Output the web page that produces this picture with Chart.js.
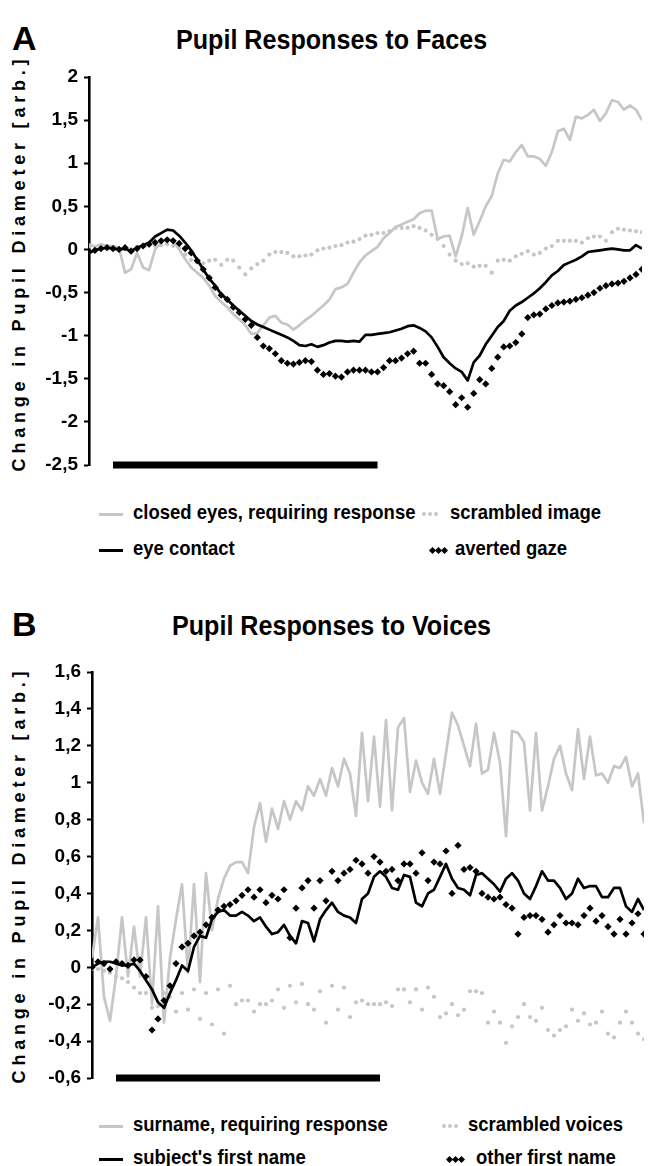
<!DOCTYPE html>
<html>
<head>
<meta charset="utf-8">
<script src="https://cdn.jsdelivr.net/npm/chart.js@4.4.1/dist/chart.umd.min.js"></script>
<style>
  body { margin: 0; background: #fff; font-family: "Liberation Sans", Arial, sans-serif; color: #000; }
  #page { position: relative; width: 653px; height: 1166px; overflow: hidden; }
  .box { position: absolute; left: 0; width: 653px; }
  .letter { position: absolute; left: 12px; font-size: 34px; line-height: 34px; font-weight: bold; }
  .title { position: absolute; font-size: 27px; line-height: 27px; font-weight: bold; white-space: nowrap;
           transform-origin: 0 0; transform: scaleX(0.93); }
  .ytitle { position: absolute; width: 440px; text-align: center; font-size: 18px; line-height: 18px;
            font-weight: bold; letter-spacing: 4.8px; white-space: nowrap;
            transform-origin: 0 0; transform: rotate(-90deg); }
  .leg { position: absolute; font-size: 21px; line-height: 21px; font-weight: bold; white-space: nowrap;
         transform-origin: 0 0; transform: scaleX(0.88); }
  .mk { position: absolute; }
</style>
</head>
<body>
<div id="page">
  <div class="letter" style="top:21px">A</div>
  <div class="title" style="top:27px; left:176px">Pupil Responses to Faces</div>
  <div class="ytitle" style="left:10px; top:483px">Change in Pupil Diameter [arb.]</div>
  <div class="box" style="top:0; height:500px"><canvas id="faces"></canvas></div>

  <div class="letter" style="top:607px">B</div>
  <div class="title" style="top:613px; left:172px">Pupil Responses to Voices</div>
  <div class="ytitle" style="left:10px; top:1095px">Change in Pupil Diameter [arb.]</div>
  <div class="box" style="top:580px; height:520px"><canvas id="voices"></canvas></div>
</div>

<script>
// sample index along the time axis, stimulus on/off in samples
const samples = Array.from({ length: 93 }, (_, i) => i);
const stimulus = [4, 48];

// A: faces
const closedEyes = [
  0.06, 0.03, 0.06, 0.04, 0.04, 0.02, -0.27, -0.23, -0.04, -0.21,
  -0.24, 0, 0.08, 0.13, 0.10, 0, -0.11, -0.21, -0.27, -0.33,
  -0.42, -0.54, -0.61, -0.67, -0.75, -0.81, -0.88, -0.98, -0.97, -0.88,
  -0.79, -0.77, -0.85, -0.87, -0.93, -0.88, -0.82, -0.77, -0.71, -0.65,
  -0.58, -0.46, -0.44, -0.40, -0.27, -0.15, -0.07, -0.02, 0.03, 0.13,
  0.19, 0.26, 0.29, 0.32, 0.35, 0.42, 0.45, 0.45, 0.12, 0.15,
  0.16, -0.08, 0.15, 0.48, 0.17, 0.33, 0.50, 0.62, 0.88, 1.04,
  1.02, 1.13, 1.21, 1.08, 1.08, 1.05, 0.97, 1.13, 1.37, 1.40,
  1.27, 1.54, 1.52, 1.56, 1.62, 1.49, 1.58, 1.73, 1.71, 1.62,
  1.67, 1.62, 1.50
];
const eyeContact = [
  -0.04, -0.01, 0.01, 0.02, 0.01, 0, 0.01, -0.02, 0.02, 0.05,
  0.08, 0.15, 0.19, 0.23, 0.22, 0.16, 0.08, -0.01, -0.12, -0.23,
  -0.34, -0.42, -0.52, -0.58, -0.65, -0.71, -0.77, -0.83, -0.87, -0.90,
  -0.93, -0.96, -0.99, -1.02, -1.06, -1.11, -1.12, -1.10, -1.13, -1.11,
  -1.08, -1.06, -1.06, -1.07, -1.06, -1.07, -0.99, -0.99, -0.98, -0.97,
  -0.96, -0.94, -0.92, -0.89, -0.88, -0.91, -0.95, -1.02, -1.13, -1.25,
  -1.32, -1.38, -1.42, -1.52, -1.31, -1.23, -1.10, -1.00, -0.90, -0.83,
  -0.71, -0.65, -0.61, -0.56, -0.51, -0.45, -0.38, -0.30, -0.25, -0.18,
  -0.15, -0.12, -0.08, -0.03, -0.02, -0.01, 0, 0.01, 0, -0.01,
  -0.01, 0.05, 0.01
];
const scrambledImage = [
  0.02, 0, 0.01, 0.02, 0, 0.01, 0.02, 0, 0.03, 0.04,
  0.05, 0.04, 0.05, 0.06, 0.04, 0.02, -0.06, -0.12, -0.15, -0.16,
  -0.13, -0.12, -0.18, -0.12, -0.13, -0.21, -0.29, -0.22, -0.17, -0.13,
  -0.06, -0.03, -0.03, -0.04, -0.08, -0.08, -0.07, -0.06, -0.01, 0.01,
  0.02, 0.04, 0.05, 0.08, 0.09, 0.12, 0.16, 0.17, 0.19, 0.19,
  0.21, 0.25, 0.25, 0.25, 0.27, 0.25, 0.22, 0.17, 0.12, 0.04,
  -0.06, -0.13, -0.17, -0.16, -0.20, -0.19, -0.19, -0.27, -0.13, -0.12,
  -0.13, -0.08, -0.05, -0.02, -0.06, -0.04, 0.01, 0.04, 0.10, 0.10,
  0.10, 0.10, 0.08, 0.13, 0.15, 0.15, 0.10, 0.20, 0.24, 0.23,
  0.22, 0.21, 0.20
];
const avertedGaze = [
  -0.02, -0.01, 0.01, 0.02, 0.01, 0, 0.02, -0.02, 0.01, 0.04,
  0.06, 0.08, 0.10, 0.11, 0.10, 0.07, 0.01, -0.04, -0.13, -0.23,
  -0.33, -0.44, -0.53, -0.58, -0.67, -0.73, -0.81, -0.88, -1.02, -1.12,
  -1.15, -1.21, -1.29, -1.32, -1.33, -1.31, -1.29, -1.30, -1.40, -1.45,
  -1.44, -1.47, -1.48, -1.42, -1.40, -1.40, -1.40, -1.42, -1.42, -1.37,
  -1.29, -1.29, -1.26, -1.21, -1.18, -1.32, -1.32, -1.45, -1.56, -1.58,
  -1.65, -1.80, -1.72, -1.83, -1.67, -1.51, -1.56, -1.38, -1.25, -1.13,
  -1.12, -1.08, -0.98, -0.79, -0.76, -0.75, -0.69, -0.65, -0.62, -0.61,
  -0.60, -0.58, -0.56, -0.53, -0.50, -0.45, -0.42, -0.40, -0.39, -0.37,
  -0.33, -0.29, -0.23
];

// B: voices
const surname = [
  0.05, 0.27, -0.16, -0.29, -0.05, 0.27, -0.05, 0.22, -0.05, 0.27,
  -0.20, 0.33, -0.30, 0.05, 0.26, 0.45, -0.03, 0.45, -0.08, 0.51,
  0.20, 0.37, 0.48, 0.55, 0.57, 0.57, 0.51, 0.76, 0.89, 0.68,
  0.86, 0.75, 0.90, 0.80, 0.90, 0.85, 0.98, 0.93, 1.02, 0.93,
  1.08, 0.98, 1.13, 1.05, 0.82, 1.27, 0.90, 1.25, 0.87, 1.34,
  0.85, 1.30, 1.35, 0.95, 1.12, 1.00, 0.94, 1.13, 0.94, 1.16,
  1.38, 1.31, 1.20, 1.09, 1.32, 1.05, 1.07, 1.27, 1.11, 0.71,
  1.28, 1.27, 1.22, 0.85, 1.27, 0.85, 0.98, 1.13, 1.20, 1.05,
  0.96, 1.29, 1.02, 1.25, 1.04, 1.05, 1.00, 1.09, 1.08, 1.14,
  0.98, 1.05, 0.78
];
const firstName = [
  0.00, 0.02, 0.03, 0.03, 0.02, 0.01, 0.01, 0.02, -0.02, -0.07,
  -0.12, -0.19, -0.22, -0.14, -0.07, 0.01, -0.02, 0.11, 0.17, 0.16,
  0.26, 0.30, 0.31, 0.28, 0.28, 0.30, 0.28, 0.25, 0.27, 0.22,
  0.18, 0.19, 0.23, 0.17, 0.13, 0.25, 0.24, 0.14, 0.26, 0.31,
  0.35, 0.30, 0.28, 0.27, 0.24, 0.37, 0.40, 0.49, 0.52, 0.49,
  0.43, 0.42, 0.50, 0.49, 0.35, 0.33, 0.40, 0.42, 0.49, 0.56,
  0.48, 0.43, 0.42, 0.39, 0.50, 0.51, 0.48, 0.45, 0.41, 0.48,
  0.51, 0.47, 0.40, 0.37, 0.44, 0.52, 0.47, 0.47, 0.43, 0.37,
  0.40, 0.48, 0.43, 0.44, 0.44, 0.38, 0.38, 0.43, 0.43, 0.33,
  0.30, 0.37, 0.31
];
const scrambledVoices = [
  -0.01, -0.01, -0.02, -0.03, -0.05, -0.06, -0.08, -0.11, -0.14, -0.14,
  -0.22, -0.21, -0.14, -0.16, -0.24, -0.14, -0.23, -0.12, -0.28, -0.14,
  -0.31, -0.12, -0.36, -0.10, -0.20, -0.18, -0.18, -0.24, -0.20, -0.20,
  -0.18, -0.12, -0.22, -0.10, -0.19, -0.09, -0.20, -0.23, -0.13, -0.30,
  -0.10, -0.23, -0.11, -0.27, -0.19, -0.18, -0.20, -0.20, -0.20, -0.19,
  -0.21, -0.12, -0.12, -0.19, -0.12, -0.23, -0.11, -0.16, -0.27, -0.25,
  -0.20, -0.26, -0.23, -0.13, -0.13, -0.14, -0.30, -0.24, -0.30, -0.41,
  -0.32, -0.27, -0.20, -0.27, -0.29, -0.22, -0.34, -0.37, -0.34, -0.32,
  -0.23, -0.29, -0.25, -0.31, -0.30, -0.24, -0.36, -0.38, -0.30, -0.24,
  -0.30, -0.36, -0.39
];
const otherName = [
  0.00, 0.03, 0.02, -0.01, 0.03, 0.02, 0.01, 0.04, 0.04, -0.05,
  -0.34, -0.28, -0.18, -0.10, 0.02, 0.11, 0.13, 0.17, 0.19, 0.23,
  0.27, 0.31, 0.33, 0.34, 0.36, 0.39, 0.42, 0.38, 0.42, 0.35,
  0.39, 0.37, 0.42, 0.16, 0.32, 0.43, 0.47, 0.32, 0.47, 0.36,
  0.52, 0.47, 0.51, 0.53, 0.58, 0.56, 0.51, 0.60, 0.57, 0.52,
  0.53, 0.47, 0.56, 0.56, 0.51, 0.62, 0.47, 0.57, 0.56, 0.63,
  0.40, 0.66, 0.53, 0.54, 0.52, 0.40, 0.38, 0.37, 0.38, 0.34,
  0.32, 0.18, 0.27, 0.28, 0.28, 0.26, 0.19, 0.23, 0.28, 0.24,
  0.24, 0.23, 0.28, 0.32, 0.25, 0.28, 0.22, 0.18, 0.26, 0.18,
  0.24, 0.29, 0.18
];

const ticksFaces = [-2.5, -2, -1.5, -1, -0.5, 0, 0.5, 1, 1.5, 2];
const ticksVoices = [-0.6, -0.4, -0.2, 0, 0.2, 0.4, 0.6, 0.8, 1, 1.2, 1.4, 1.6];

const GRAY = "#c6c6c6";
const fmt = v => String(Math.round(v * 10) / 10).replace(".", ",");

function pupilChart(id, ticks, axisX, padding, series, names) {
  const [gray, black, dots, diamonds] = series;
  return new Chart(document.getElementById(id), {
    type: "line",
    data: {
      labels: samples,
      datasets: [
        {
          label: "stimulus",
          data: stimulus.map(x => ({ x, y: ticks[0] })),
          borderColor: "#000",
          borderWidth: 7,
          borderCapStyle: "butt",
          pointRadius: 0,
          clip: false,
        },
        {
          label: names[3],
          data: diamonds,
          showLine: false,
          pointStyle: "rectRot",
          pointRadius: 3.6,
          pointBackgroundColor: "#000",
          pointBorderWidth: 0,
        },
        {
          label: names[1],
          data: black,
          borderColor: "#000",
          borderWidth: 2.7,
          pointRadius: 0,
        },
        {
          label: names[0],
          data: gray,
          borderColor: GRAY,
          borderWidth: 2.7,
          pointRadius: 0,
        },
        {
          label: names[2],
          data: dots,
          showLine: false,
          pointRadius: 2.1,
          pointBackgroundColor: GRAY,
          pointBorderWidth: 0,
        },
      ],
    },
    options: {
      responsive: true,
      maintainAspectRatio: false,
      animation: false,
      devicePixelRatio: 1,
      layout: { padding },
      elements: { line: { tension: 0, borderJoinStyle: "round" } },
      plugins: {
        legend: { display: false },
        tooltip: { enabled: false },
      },
      scales: {
        x: { type: "linear", min: 0, max: samples.length - 1, display: false },
        y: {
          min: ticks[0],
          max: ticks[ticks.length - 1],
          afterFit: s => { s.width = axisX; },
          afterBuildTicks: s => { s.ticks = ticks.map(value => ({ value })); },
          border: { display: true, color: "#000", width: 2.6 },
          grid: { drawOnChartArea: false, tickLength: 5, tickColor: "#000", tickWidth: 2 },
          ticks: {
            padding: 6,
            color: "#000",
            font: { family: "'Liberation Sans', Arial", size: 19, weight: "bold" },
            callback: v => fmt(v),
          },
        },
      },
    },
  });
}

// legend rows drawn as html under each chart
function legend(chart, items) {
  const page = document.getElementById("page");
  items.forEach(it => {
    const ds = chart.data.datasets.find(d => d.label === it.label);
    const mk = document.createElement("div");
    mk.className = "mk";
    if (it.kind === "line") {
      mk.style.cssText = `left:${it.mx}px;top:${it.y - 1}px;width:24px;height:3px;background:${ds.borderColor}`;
    } else {
      const dot = it.kind === "dots";
      for (let k = 0; k < 3; k++) {
        const s = document.createElement("div");
        s.className = "mk";
        const sz = dot ? 4 : 5;
        s.style.cssText = `left:${k * 6}px;top:${-sz / 2}px;width:${sz}px;height:${sz}px;` +
          `background:${ds.pointBackgroundColor};` + (dot ? "border-radius:50%" : "transform:rotate(45deg)");
        mk.appendChild(s);
      }
      mk.style.left = it.mx + "px";
      mk.style.top = it.y + "px";
    }
    page.appendChild(mk);
    const t = document.createElement("div");
    t.className = "leg";
    t.textContent = it.label;
    t.style.left = it.tx + "px";
    t.style.top = (it.y - 13) + "px";
    page.appendChild(t);
  });
}

const faces = pupilChart("faces", ticksFaces, 89, { top: 77, right: 11, bottom: 35, left: 0 },
  [closedEyes, eyeContact, scrambledImage, avertedGaze],
  ["closed eyes, requiring response", "eye contact", "scrambled image", "averted gaze"]);

const voices = pupilChart("voices", ticksVoices, 92, { top: 92, right: 9, bottom: 22, left: 0 },
  [surname, firstName, scrambledVoices, otherName],
  ["surname, requiring response", "subject's first name", "scrambled voices", "other first name"]);

legend(faces, [
  { label: "closed eyes, requiring response", kind: "line", mx: 99, tx: 133, y: 514 },
  { label: "scrambled image", kind: "dots", mx: 422, tx: 450, y: 514 },
  { label: "eye contact", kind: "line", mx: 99, tx: 133, y: 550 },
  { label: "averted gaze", kind: "diamonds", mx: 430, tx: 455, y: 550 },
]);
legend(voices, [
  { label: "surname, requiring response", kind: "line", mx: 99, tx: 133, y: 1126 },
  { label: "scrambled voices", kind: "dots", mx: 442, tx: 468, y: 1126 },
  { label: "subject's first name", kind: "line", mx: 99, tx: 133, y: 1159 },
  { label: "other first name", kind: "diamonds", mx: 447, tx: 476, y: 1159 },
]);
</script>
</body>
</html>
